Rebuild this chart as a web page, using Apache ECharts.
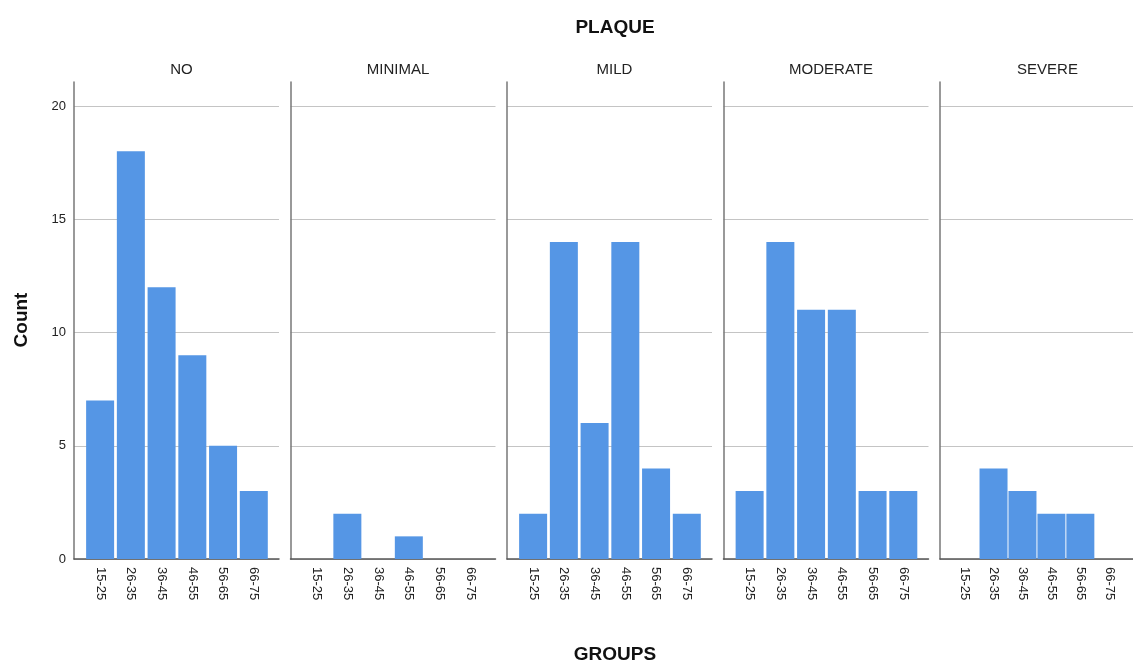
<!DOCTYPE html>
<html>
<head>
<meta charset="utf-8">
<script src="https://cdn.jsdelivr.net/npm/echarts@6/dist/echarts.min.js"></script>
<style>
  html, body { margin: 0; padding: 0; background: #fff; }
  #chart { width: 1133px; height: 664px; }
</style>
</head>
<body>
<div id="chart"></div>
<script>
  // age groups on x, one panel per plaque level
  const groups = ['15-25', '26-35', '36-45', '46-55', '56-65', '66-75']
  const panels = ['NO', 'MINIMAL', 'MILD', 'MODERATE', 'SEVERE']
  const countNo = [7, 18, 12, 9, 5, 3]
  const countMinimal = [0, 2, 0, 1, 0, 0]
  const countMild = [2, 14, 6, 14, 4, 2]
  const countModerate = [3, 14, 11, 11, 3, 3]
  const countSevere = [0, 4, 3, 2, 2, 0]
  const yTicks = [0, 5, 10, 15, 20]

  const counts = [countNo, countMinimal, countMild, countModerate, countSevere]
  const font = 'Liberation Sans, Arial, sans-serif'
  const barColor = '#5596e5'

  const panelLeft = 74, panelStep = 216.5, panelWidth = 205
  const gridTop = 82, gridHeight = 477

  const chart = echarts.init(document.getElementById('chart'), null, { renderer: 'canvas' })

  const grids = [], xAxes = [], yAxes = [], series = [], titles = []
  panels.forEach((name, i) => {
    const left = panelLeft + i * panelStep
    grids.push({ left: left, top: gridTop, width: panelWidth, height: gridHeight })
    xAxes.push({
      type: 'value',
      gridIndex: i,
      min: -0.85,
      max: 5.82,
      splitLine: { show: false },
      axisLine: { show: true, onZero: false, lineStyle: { color: '#555', width: 1.5 } },
      axisTick: { show: false },
      axisLabel: {
        customValues: groups.map((g, k) => k),
        formatter: v => groups[Math.round(v)],
        rotate: -90,
        margin: 8,
        color: '#222',
        fontSize: 13,
        fontFamily: font
      }
    })
    yAxes.push({
      type: 'value',
      gridIndex: i,
      min: 0,
      max: 21.06,
      interval: 5,
      axisLine: { show: true, onZero: false, lineStyle: { color: '#777', width: 1.5 } },
      axisTick: { show: false, customValues: yTicks },
      splitLine: { show: true, lineStyle: { color: '#c4c4c4', width: 1 } },
      axisLabel: {
        show: i === 0,
        customValues: yTicks,
        margin: 8,
        color: '#222',
        fontSize: 13,
        fontFamily: font
      }
    })
    series.push({
      type: 'bar',
      xAxisIndex: i,
      yAxisIndex: i,
      barWidth: 28,
      itemStyle: { color: barColor },
      data: counts[i].map((v, k) => [k, v]),
      animation: false
    })
    titles.push({
      text: name,
      left: left + panelWidth / 2,
      top: 57,
      textAlign: 'center',
      textStyle: { fontSize: 15, fontWeight: 'normal', color: '#222', fontFamily: font }
    })
  })

  titles.push({
    text: 'PLAQUE',
    left: 610, top: 13, textAlign: 'center',
    textStyle: { fontSize: 19, fontWeight: 'bold', color: '#111', fontFamily: font }
  })
  titles.push({
    text: 'GROUPS',
    left: 610, top: 640, textAlign: 'center',
    textStyle: { fontSize: 19, fontWeight: 'bold', color: '#111', fontFamily: font }
  })

  chart.setOption({
    backgroundColor: '#fff',
    animation: false,
    title: titles,
    grid: grids,
    xAxis: xAxes,
    yAxis: yAxes,
    series: series,
    graphic: [{
      type: 'text',
      x: 22, y: 320,
      rotation: Math.PI / 2,
      style: {
        text: 'Count',
        font: 'bold 19px ' + font,
        fill: '#111',
        textAlign: 'center',
        textVerticalAlign: 'middle'
      }
    }]
  })
</script>
</body>
</html>
